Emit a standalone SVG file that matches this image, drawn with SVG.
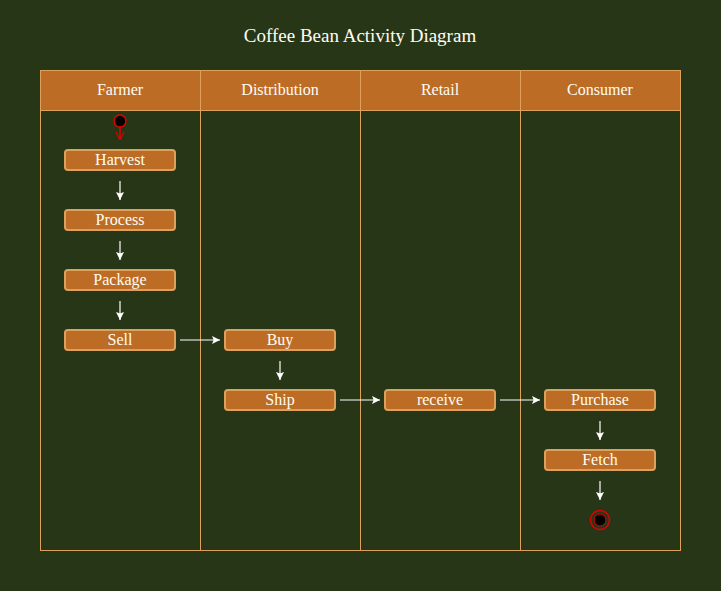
<svg xmlns="http://www.w3.org/2000/svg" width="721" height="591" viewBox="0 0 721 591">
<defs>
<style>
.bg{fill:#283618}
.lane{fill:none;stroke:#dda15e;stroke-width:1}
.hdr{fill:#bc6c25;stroke:#dda15e;stroke-width:1}
.t{font-family:"Liberation Serif","Times New Roman",serif;font-size:16px;fill:#fffdf2;text-anchor:middle;dominant-baseline:central}
.title{font-family:"Liberation Serif","Times New Roman",serif;font-size:19px;fill:#fffdf2;text-anchor:middle;dominant-baseline:central}
.act{fill:#bc6c25;stroke:#dda15e;stroke-width:2}
.c{stroke:#ffffff;stroke-width:1.2;fill:none;marker-end:url(#ah)}
</style>
<marker id="ah" viewBox="0 0 10 10" refX="10" refY="5" markerWidth="8" markerHeight="8" markerUnits="userSpaceOnUse" orient="auto"><path d="M0,0 L10,5 L0,10 L2,5 Z" fill="#ffffff"/></marker>
<marker id="ahr" viewBox="0 0 10 10" refX="10" refY="5" markerWidth="8" markerHeight="8" markerUnits="userSpaceOnUse" orient="auto"><path d="M0,0 L10,5 L0,10" fill="none" stroke="#e00000" stroke-width="1.5"/></marker>
</defs>
<rect class="bg" x="0" y="0" width="721" height="591"/>
<text class="title" x="360" y="35">Coffee Bean Activity Diagram</text>
<g id="lanes">
<rect class="lane" x="40.5" y="70.5" width="160" height="480"/>
<rect class="lane" x="200.5" y="70.5" width="160" height="480"/>
<rect class="lane" x="360.5" y="70.5" width="160" height="480"/>
<rect class="lane" x="520.5" y="70.5" width="160" height="480"/>
<rect class="hdr" x="40.5" y="70.5" width="160" height="40"/>
<rect class="hdr" x="200.5" y="70.5" width="160" height="40"/>
<rect class="hdr" x="360.5" y="70.5" width="160" height="40"/>
<rect class="hdr" x="520.5" y="70.5" width="160" height="40"/>
<text class="t" x="120" y="89">Farmer</text>
<text class="t" x="280" y="89">Distribution</text>
<text class="t" x="440" y="89">Retail</text>
<text class="t" x="600" y="89">Consumer</text>
</g>
<g id="connectors">
<line x1="120" y1="127" x2="120" y2="140" stroke="#e00000" stroke-width="1.5" marker-end="url(#ahr)"/>
<line class="c" x1="120" y1="181" x2="120" y2="200"/>
<line class="c" x1="120" y1="241" x2="120" y2="260"/>
<line class="c" x1="120" y1="301" x2="120" y2="320"/>
<line class="c" x1="180" y1="340" x2="220" y2="340"/>
<line class="c" x1="280" y1="361" x2="280" y2="380"/>
<line class="c" x1="340" y1="400" x2="380" y2="400"/>
<line class="c" x1="500" y1="400" x2="540" y2="400"/>
<line class="c" x1="600" y1="421" x2="600" y2="440"/>
<line class="c" x1="600" y1="481" x2="600" y2="500"/>
</g>
<g id="start"><circle cx="120" cy="121" r="6" fill="#000" stroke="#e00000" stroke-width="1.5"/></g>
<g id="harvest"><rect class="act" x="65" y="150" width="110" height="20" rx="3"/><text class="t" x="120" y="159">Harvest</text></g>
<g id="process"><rect class="act" x="65" y="210" width="110" height="20" rx="3"/><text class="t" x="120" y="219">Process</text></g>
<g id="package"><rect class="act" x="65" y="270" width="110" height="20" rx="3"/><text class="t" x="120" y="279">Package</text></g>
<g id="sell"><rect class="act" x="65" y="330" width="110" height="20" rx="3"/><text class="t" x="120" y="339">Sell</text></g>
<g id="buy"><rect class="act" x="225" y="330" width="110" height="20" rx="3"/><text class="t" x="280" y="339">Buy</text></g>
<g id="ship"><rect class="act" x="225" y="390" width="110" height="20" rx="3"/><text class="t" x="280" y="399">Ship</text></g>
<g id="receive"><rect class="act" x="385" y="390" width="110" height="20" rx="3"/><text class="t" x="440" y="399">receive</text></g>
<g id="purchase"><rect class="act" x="545" y="390" width="110" height="20" rx="3"/><text class="t" x="600" y="399">Purchase</text></g>
<g id="fetch"><rect class="act" x="545" y="450" width="110" height="20" rx="3"/><text class="t" x="600" y="459">Fetch</text></g>
<g id="end"><circle cx="600" cy="520" r="9.5" fill="none" stroke="#e00000" stroke-width="1.5"/><circle cx="600" cy="520" r="6" fill="#000" stroke="#e00000" stroke-width="1"/></g>
</svg>
